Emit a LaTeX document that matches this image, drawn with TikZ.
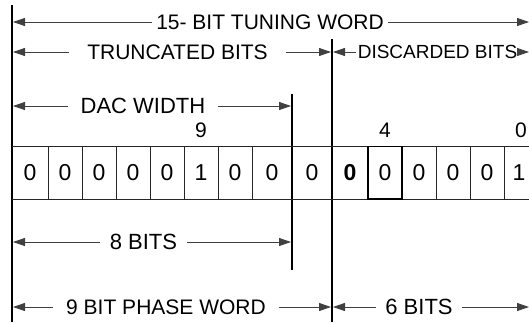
\documentclass[tikz,border=0pt]{standalone}
\usepackage{fontspec}
\setmainfont{Liberation Sans}
\usetikzlibrary{arrows.meta}
\begin{document}
\begin{tikzpicture}[x=1pt,y=-1pt,
  dim/.style={draw=black!75, line width=0.9pt, -{Triangle[length=12pt,width=8pt]}},
  lbl/.style={inner ysep=0pt, font=\fontsize{21}{24}\selectfont},
  cell/.style={draw=black!85, line width=0.8pt},
  vline/.style={draw=black, line width=1.2pt},
  digit/.style={inner sep=0pt, font=\fontsize{23}{26}\selectfont},
  idx/.style={inner sep=0pt, font=\fontsize{21}{24}\selectfont}]
\useasboundingbox (0,0) rectangle (529,322);
\clip (0,0) rectangle (529,322);
% vertical reference lines
\coordinate (Ltop) at (12,5);   \coordinate (Lbot) at (12,322);
\coordinate (Dtop) at (332,39); \coordinate (Dbot) at (332,322);
\coordinate (Wtop) at (292,94); \coordinate (Wbot) at (292,270);
\draw[vline] (Ltop) -- (Lbot);
\draw[vline, line width=1.8pt] (Dtop) -- (Dbot);
\draw[vline] (Wtop) -- (Wbot);
% cells
\draw[cell] (12,146.5) -- (529,146.5);
\draw[cell] (12,199) -- (529,199);
\foreach \x in {48,82,116,150,184,218,252,368,402,436,470,504}
  \draw[cell] (\x,146.5) -- (\x,199);
\draw[line width=1.2pt] (368,146.5) rectangle (402,199);
\foreach \x/\v [count=\i] in {30/0,65/0,99/0,133/0,167/0,201/1,235/0,272/0,312/0,385/0,419/0,453/0,487/0,519/1}
  \node[digit] (d\i) at (\x,173) {\v};
\node[digit, font=\fontsize{23}{26}\selectfont\bfseries] (dbold) at (350,173) {0};
% bit indices
\node[idx] (i9) at (201,130.5) {9};
\node[idx] (i4) at (385,130.5) {4};
\node[idx] (i0) at (521,130.5) {0};
% row 1
\coordinate (a1l) at (13,22); \coordinate (a1r) at (529,22);
\node[lbl, inner xsep=4pt] (t1) at (270,22) {15- BIT TUNING WORD};
\draw[dim] (t1.west) -- (a1l);
\draw[dim] (t1.east) -- (a1r);
% row 2
\coordinate (a2l) at (13,52); \coordinate (a2r) at (331,52);
\node[lbl, inner xsep=18pt] (t2) at (177.5,52) {TRUNCATED BITS};
\draw[dim] (t2.west) -- (a2l);
\draw[dim] (t2.east) -- (a2r);
\coordinate (a3l) at (333,52); \coordinate (a3r) at (529,52);
\node[lbl, inner xsep=1.5pt, font=\fontsize{19}{22}\selectfont] (t3) at (437.5,52) {DISCARDED BITS};
\draw[dim] (t3.west) -- (a3l);
\draw[dim] (t3.east) -- (a3r);
% row 3
\coordinate (a4l) at (13,106); \coordinate (a4r) at (291,106);
\node[lbl, inner xsep=12pt, font=\fontsize{22}{25}\selectfont] (t4) at (143,106) {DAC WIDTH};
\draw[dim] (t4.west) -- (a4l);
\draw[dim] (t4.east) -- (a4r);
% row 4
\coordinate (a5l) at (13,242); \coordinate (a5r) at (291,242);
\node[lbl, inner xsep=10pt, font=\fontsize{22}{25}\selectfont] (t5) at (143.5,242) {8 BITS};
\draw[dim] (t5.west) -- (a5l);
\draw[dim] (t5.east) -- (a5r);
% row 5
\coordinate (a6l) at (13,307); \coordinate (a6r) at (331,307);
\node[lbl, inner xsep=13pt] (t6) at (166,307) {9 BIT PHASE WORD};
\draw[dim] (t6.west) -- (a6l);
\draw[dim] (t6.east) -- (a6r);
\coordinate (a7l) at (333,307); \coordinate (a7r) at (529,307);
\node[lbl, inner xsep=9.5pt, font=\fontsize{22}{25}\selectfont] (t7) at (419,307) {6 BITS};
\draw[dim] (t7.west) -- (a7l);
\draw[dim] (t7.east) -- (a7r);
\end{tikzpicture}
\end{document}
